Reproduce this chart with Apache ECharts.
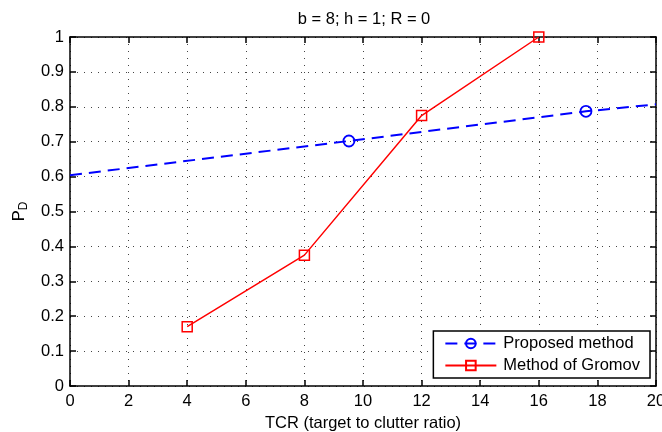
<!DOCTYPE html>
<html lang="en">
<head>
    <meta charset="UTF-8">
    <title>PD vs TCR</title>
</head>
<body style="margin:0;background:#fff">
<div id="chart" style="width: 662px;height: 432px"></div>
<script src="https://cdn.jsdelivr.net/npm/echarts@6/dist/echarts.min.js"></script>
<script>
    var titleText = 'b = 8; h = 1; R = 0';
    var xName = 'TCR (target to clutter ratio)';
    var proposedName = 'Proposed method';
    var gromovName = 'Method of Gromov';

    // proposed method: line through the whole range, markers at two points
    var proposedX = [0, 9.52, 17.61, 20];
    var proposedY = [0.604, 0.702, 0.787, 0.807];
    var proposedMarked = [false, true, true, false];

    // method of Gromov
    var gromovX = [4, 8, 12, 16];
    var gromovY = [0.17, 0.375, 0.775, 1.0];

    var font = 'Liberation Sans, Arial, sans-serif';
    var fs = 16.5;

    function pairs (xs, ys, marked) {
        var res = [];
        for (var i = 0; i < xs.length; i++) {
            var p = {value: [xs[i], ys[i]]};
            if (marked && !marked[i]) {
                p.symbol = 'none';
            }
            res.push(p);
        }
        return res;
    }

    var gridLine = {show: true, lineStyle: {color: '#444', type: [1, 6], width: 1}};
    var axisLine = {show: true, onZero: false, lineStyle: {color: '#000', width: 1.5}};
    var tickIn = {show: true, inside: true, length: 6, lineStyle: {color: '#000', width: 1.5}};

    var option = {
        backgroundColor: '#fff',
        animation: false,
        title: {
            text: titleText,
            left: 359,
            top: 6,
            textAlign: 'center',
            textStyle: {fontFamily: font, fontSize: fs, fontWeight: 'normal', color: '#000'}
        },
        grid: {left: 70, right: 6, top: 37, bottom: 46, outerBoundsMode: 'none'},
        legend: {
            right: 12,
            bottom: 54,
            orient: 'vertical',
            backgroundColor: '#fff',
            borderColor: '#000',
            borderWidth: 1.5,
            borderRadius: 0,
            padding: [4, 10, 4, 11],
            itemGap: 5,
            itemWidth: 51,
            itemHeight: 12,
            textStyle: {fontFamily: font, fontSize: fs, color: '#000', padding: [0, 0, 0, 2]},
            data: [proposedName, gromovName]
        },
        xAxis: [{
            type: 'value',
            min: 0, max: 20, interval: 2,
            name: xName,
            nameLocation: 'middle',
            nameGap: 25,
            nameTextStyle: {fontFamily: font, fontSize: fs, color: '#000'},
            axisLine: axisLine,
            axisTick: tickIn,
            axisLabel: {fontFamily: font, fontSize: fs, color: '#000', margin: 7},
            splitLine: gridLine
        }, {
            type: 'value',
            position: 'top',
            min: 0, max: 20, interval: 2,
            axisLine: axisLine,
            axisTick: tickIn,
            axisLabel: {show: false},
            splitLine: {show: false}
        }],
        yAxis: [{
            type: 'value',
            min: 0, max: 1, interval: 0.1,
            name: '{p|P}{d|D}',
            nameLocation: 'middle',
            nameGap: 38,
            nameTextStyle: {
                rich: {
                    p: {fontFamily: font, fontSize: fs, color: '#000'},
                    d: {fontFamily: font, fontSize: 12, color: '#000', verticalAlign: 'bottom', padding: [9, 0, 0, 0]}
                }
            },
            axisLine: axisLine,
            axisTick: tickIn,
            axisLabel: {fontFamily: font, fontSize: fs, color: '#000', margin: 6},
            splitLine: gridLine
        }, {
            type: 'value',
            position: 'right',
            min: 0, max: 1, interval: 0.1,
            axisLine: axisLine,
            axisTick: tickIn,
            axisLabel: {show: false},
            splitLine: {show: false}
        }],
        series: [{
            name: proposedName,
            type: 'line',
            data: pairs(proposedX, proposedY, proposedMarked),
            symbol: 'circle',
            symbolSize: 11,
            showAllSymbol: true,
            color: '#0000ff',
            lineStyle: {color: '#0000ff', width: 2, type: [12, 7]},
            itemStyle: {color: 'rgba(0,0,0,0)', borderColor: '#0000ff', borderWidth: 1.8},
            z: 3
        }, {
            name: gromovName,
            type: 'line',
            data: pairs(gromovX, gromovY),
            symbol: 'rect',
            symbolSize: 10,
            color: '#ff0000',
            lineStyle: {color: '#ff0000', width: 1.5},
            itemStyle: {color: 'rgba(0,0,0,0)', borderColor: '#ff0000', borderWidth: 1.5},
            z: 4
        }]
    };

    var chart = echarts.init(document.getElementById('chart'));
    chart.setOption(option);
</script>
</body>
</html>
